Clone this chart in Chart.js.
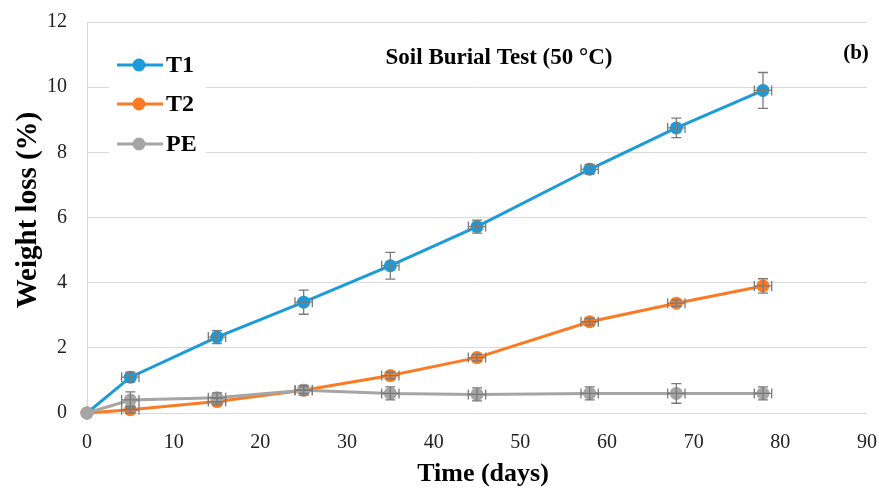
<!DOCTYPE html>
<html>
<head>
<meta charset="utf-8">
<script src="https://cdn.jsdelivr.net/npm/chart.js@4"></script>
<style>
  html, body { margin: 0; padding: 0; background: #fff; }
  #wrap { width: 879px; height: 488px; position: relative; }
</style>
</head>
<body>
<div id="wrap"><canvas id="c" width="879" height="488"></canvas></div>
<script>
// Sampling days and weight loss (%) per film
const days = [0, 5, 15, 25, 35, 45, 58, 68, 78];
const t1 = [0, 1.1, 2.33, 3.4, 4.52, 5.72, 7.48, 8.75, 9.9];
const t2 = [0, 0.1, 0.35, 0.7, 1.15, 1.7, 2.8, 3.37, 3.9];
const pe = [0, 0.4, 0.47, 0.7, 0.6, 0.57, 0.6, 0.6, 0.6];

// Standard deviations (weight loss) and day spread
const t1Err = [0, 0.15, 0.2, 0.37, 0.41, 0.2, 0.15, 0.3, 0.55];
const t2Err = [0, 0.1, 0.1, 0.1, 0.1, 0.1, 0.1, 0.1, 0.22];
const peErr = [0, 0.25, 0.15, 0.15, 0.2, 0.2, 0.2, 0.3, 0.2];
const dayErr = [0, 1, 1, 1, 1, 1, 1, 1, 1];

const seriesNames = ['T1', 'T2', 'PE'];
const seriesColors = ['#1b9bd8', '#fb7b24', '#a5a5a5'];
const xTicks = [0, 10, 20, 30, 40, 50, 60, 70, 80, 90];
const yTicks = [0, 2, 4, 6, 8, 10, 12];
const chartTitle = 'Soil Burial Test (50 \u00B0C)';
const panelTag = '(b)';
const xTitle = 'Time (days)';
const yTitle = 'Weight loss (%)';

const serif = '"Liberation Serif", "Times New Roman", serif';

function pts(vals) { return days.map((d, i) => ({ x: d, y: vals[i] })); }

const errSets = [t1Err, t2Err, peErr];

// Error bars drawn over the markers
const errorBars = {
  id: 'errorBars',
  afterDatasetsDraw(chart) {
    const { ctx, scales: { x, y } } = chart;
    ctx.save();
    ctx.strokeStyle = '#7a7a7a';
    ctx.lineWidth = 1.3;
    const cap = 5;
    chart.data.datasets.forEach((ds, k) => {
      const errs = errSets[k];
      ds.data.forEach((p, i) => {
        const px = x.getPixelForValue(p.x);
        const py = y.getPixelForValue(p.y);
        const e = errs[i];
        if (e > 0) {
          const yt = y.getPixelForValue(p.y + e);
          const yb = y.getPixelForValue(p.y - e);
          ctx.beginPath();
          ctx.moveTo(px, yt); ctx.lineTo(px, yb);
          ctx.moveTo(px - cap, yt); ctx.lineTo(px + cap, yt);
          ctx.moveTo(px - cap, yb); ctx.lineTo(px + cap, yb);
          ctx.stroke();
        }
        const de = dayErr[i];
        if (de > 0) {
          const xl = x.getPixelForValue(p.x - de);
          const xr = x.getPixelForValue(p.x + de);
          ctx.beginPath();
          ctx.moveTo(xl, py); ctx.lineTo(xr, py);
          ctx.moveTo(xl, py - cap); ctx.lineTo(xl, py + cap);
          ctx.moveTo(xr, py - cap); ctx.lineTo(xr, py + cap);
          ctx.stroke();
        }
      });
    });
    ctx.restore();
  }
};

// Legend box inside the plot, titles and axis titles
const annotations = {
  id: 'annotations',
  beforeDatasetsDraw(chart) {
    const { ctx } = chart;
    ctx.save();
    ctx.fillStyle = '#ffffff';
    ctx.fillRect(109, 30, 97, 135);
    ctx.restore();
  },
  afterDraw(chart) {
    const { ctx } = chart;
    ctx.save();
    // legend
    const rows = [65, 104, 144];
    seriesNames.forEach((name, i) => {
      const yy = rows[i];
      ctx.strokeStyle = seriesColors[i];
      ctx.lineWidth = 3;
      ctx.beginPath();
      ctx.moveTo(117, yy); ctx.lineTo(163, yy);
      ctx.stroke();
      ctx.fillStyle = seriesColors[i];
      ctx.beginPath();
      ctx.arc(139, yy, 6.5, 0, Math.PI * 2);
      ctx.fill();
      ctx.fillStyle = '#000';
      ctx.font = 'bold 24px ' + serif;
      ctx.textAlign = 'left';
      ctx.textBaseline = 'middle';
      ctx.fillText(name, 166, yy + 1);
    });
    // chart title
    ctx.font = 'bold 23px ' + serif;
    ctx.textAlign = 'center';
    ctx.textBaseline = 'middle';
    ctx.fillText(chartTitle, 499, 58);
    ctx.font = 'bold 21px ' + serif;
    ctx.fillText(panelTag, 856, 54);
    // axis titles
    ctx.font = 'bold 26px ' + serif;
    ctx.fillText(xTitle, 483, 474);
    ctx.font = 'bold 29px ' + serif;
    ctx.translate(29, 210);
    ctx.rotate(-Math.PI / 2);
    ctx.fillText(yTitle, 0, 0);
    ctx.restore();
  }
};

const lineDs = (label, vals, color, order) => ({
  label,
  data: pts(vals),
  borderColor: color,
  backgroundColor: color,
  borderWidth: 3,
  pointRadius: 6.5,
  pointBorderWidth: 0,
  pointBackgroundColor: color,
  tension: 0,
  clip: false,
  order
});

new Chart(document.getElementById('c'), {
  type: 'line',
  data: {
    datasets: [
      lineDs(seriesNames[0], t1, seriesColors[0], 3),
      lineDs(seriesNames[1], t2, seriesColors[1], 2),
      lineDs(seriesNames[2], pe, seriesColors[2], 1)
    ]
  },
  options: {
    responsive: false,
    animation: false,
    devicePixelRatio: 1,
    layout: { padding: { top: 22, right: 12, left: 0, bottom: 0 } },
    plugins: {
      legend: { display: false },
      tooltip: { enabled: false },
      title: { display: false }
    },
    scales: {
      x: {
        type: 'linear',
        min: 0, max: 90,
        afterBuildTicks(s) { s.ticks = xTicks.map(v => ({ value: v })); },
        afterFit(s) { s.height = 75; s.paddingLeft = 0; s.paddingRight = 0; },
        grid: { display: false, drawTicks: false },
        border: { display: false },
        ticks: {
          padding: 18,
          color: '#222',
          font: { family: serif, size: 20 },
          maxRotation: 0
        }
      },
      y: {
        type: 'linear',
        min: 0, max: 12,
        afterBuildTicks(s) { s.ticks = yTicks.map(v => ({ value: v })); },
        afterFit(s) { s.width = 87; s.paddingTop = 0; s.paddingBottom = 0; },
        grid: { color: '#d9d9d9', lineWidth: 1, drawTicks: false },
        border: { display: true, color: '#d9d9d9', width: 1 },
        ticks: {
          padding: 20,
          color: '#222',
          font: { family: serif, size: 20 }
        }
      }
    }
  },
  plugins: [errorBars, annotations]
});
</script>
</body>
</html>
